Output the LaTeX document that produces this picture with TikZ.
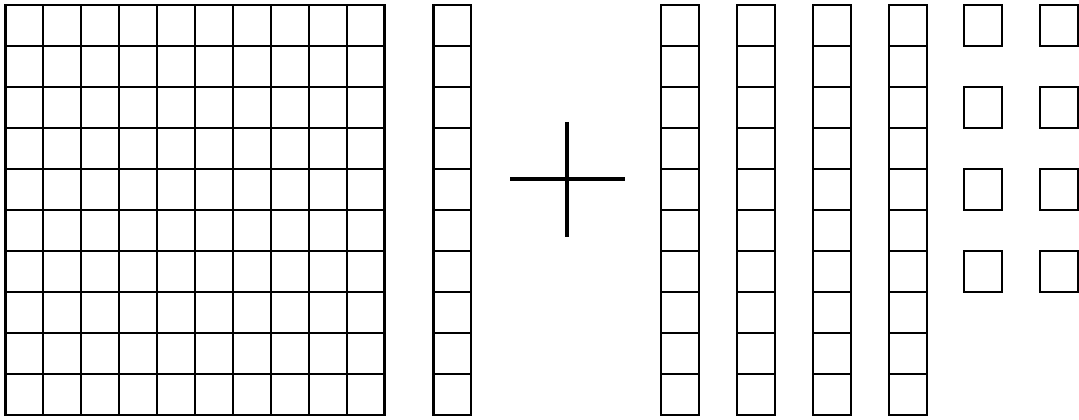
\documentclass[tikz,border=0pt]{standalone}
\usepackage{tikz}
\usetikzlibrary{calc}

\tikzset{
  block/.style={draw=black, line width=1.6pt, line join=miter},
  plussign/.style={draw=black, line width=3.2pt},
}
\newcommand{\cw}{37.9}
\newcommand{\ch}{41}

\begin{document}
\begin{tikzpicture}[x=0.75pt, y=-0.75pt]
  \useasboundingbox (0,0) rectangle (1079,420);
  % hundred: 10 x 10 grid
  \foreach \i in {0,...,9} {
    \foreach \j in {0,...,9} {
      \draw[block] ({5.5+\i*\cw},{5+\j*\ch}) rectangle ++(\cw,\ch);
    }
  }
  % one ten
  \foreach \j in {0,...,9}
    \draw[block] (433.5,{5+\j*\ch}) rectangle ++(\cw,\ch);
  % plus
  \coordinate (pl) at (510,179);
  \coordinate (pr) at (625,179);
  \coordinate (pt) at (567,122);
  \coordinate (pb) at (567,237);
  \draw[plussign] (pl) -- (pr);
  \draw[plussign] (pt) -- (pb);
  % four tens
  \foreach \x in {661,737,813,889} {
    \foreach \j in {0,...,9}
      \draw[block] (\x,{5+\j*\ch}) rectangle ++(\cw,\ch);
  }
  % eight ones
  \foreach \x in {964,1040} {
    \foreach \y in {5,87,169,251}
      \draw[block] (\x,\y) rectangle ++(\cw,\ch);
  }
\end{tikzpicture}
\end{document}
